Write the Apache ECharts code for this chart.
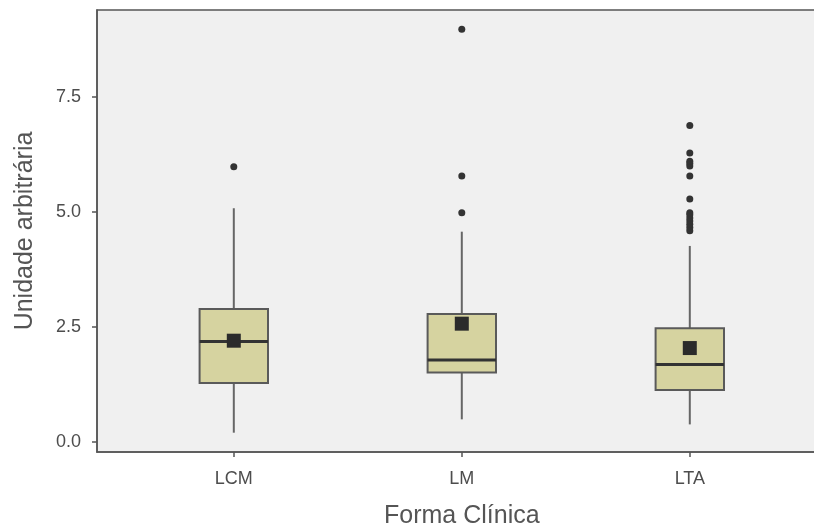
<!DOCTYPE html>
<html>
<head>
<meta charset="utf-8">
<script src="https://cdn.jsdelivr.net/npm/echarts@6/dist/echarts.min.js"></script>
<style>
html,body{margin:0;padding:0;background:#fff;}
#chart{width:814px;height:529px;}
</style>
</head>
<body>
<div id="chart"></div>
<script>
const categories = ['LCM', 'LM', 'LTA'];
const lowerWhisker = [0.20, 0.49, 0.38];
const q1 = [1.28, 1.51, 1.13];
const median = [2.18, 1.78, 1.68];
const q3 = [2.89, 2.78, 2.47];
const upperWhisker = [5.08, 4.57, 4.26];
const means = [2.20, 2.57, 2.04];
const outliersLCM = [5.98];
const outliersLM = [4.98, 5.78, 8.97];
const outliersLTA = [4.59, 4.66, 4.73, 4.80, 4.87, 4.94, 4.98, 5.28, 5.78, 6.00, 6.05, 6.10, 6.28, 6.88];
const yTicks = [0, 2.5, 5.0, 7.5];

const boxData = categories.map((c, i) => [i + 1, lowerWhisker[i], q1[i], median[i], q3[i], upperWhisker[i]]);
const outlierData = [];
[outliersLCM, outliersLM, outliersLTA].forEach((arr, i) => arr.forEach(v => outlierData.push([i + 1, v])));
const meanData = means.map((v, i) => [i + 1, v]);

const chart = echarts.init(document.getElementById('chart'));
const halfW = 0.15;
chart.setOption({
  animation: false,
  backgroundColor: '#ffffff',
  grid: {
    left: 97, top: 10, width: 729.6, height: 442,
    outerBoundsMode: 'none', containLabel: false,
    show: true, backgroundColor: '#f0f0f0', borderColor: '#555555', borderWidth: 1.5
  },
  xAxis: {
    type: 'value', min: 0.4, max: 3.6,
    name: 'Forma Clínica', nameLocation: 'middle', nameGap: 52,
    nameTextStyle: {fontSize: 25, color: '#555555', fontFamily: 'Liberation Sans'},
    splitLine: {show: false},
    axisLine: {show: true, onZero: false, lineStyle: {color: '#555555', width: 1.5}},
    axisTick: {show: true, length: 5, customValues: [1, 2, 3], lineStyle: {color: '#555555', width: 1.5}},
    axisLabel: {
      customValues: [1, 2, 3], margin: 18, fontSize: 18, color: '#4d4d4d', fontFamily: 'Liberation Sans',
      formatter: v => categories[Math.round(v) - 1] || ''
    }
  },
  yAxis: {
    type: 'value', min: -0.22, max: 9.39,
    name: 'Unidade arbitrária', nameLocation: 'middle', nameGap: 59,
    nameTextStyle: {fontSize: 25, color: '#555555', fontFamily: 'Liberation Sans'},
    splitLine: {show: false},
    axisLine: {show: true, onZero: false, lineStyle: {color: '#555555', width: 1.5}},
    axisTick: {show: true, length: 5, customValues: yTicks, lineStyle: {color: '#555555', width: 1.5}},
    axisLabel: {
      customValues: yTicks, margin: 16, fontSize: 18, color: '#4d4d4d', fontFamily: 'Liberation Sans',
      formatter: v => Number(v).toFixed(1)
    }
  },
  series: [
    {
      type: 'custom',
      data: boxData,
      encode: {x: 0, y: [1, 2, 3, 4, 5]},
      z: 2,
      renderItem: function (params, api) {
        const x = api.value(0);
        const lo = api.coord([x, api.value(1)]);
        const pq1 = api.coord([x, api.value(2)]);
        const pmed = api.coord([x, api.value(3)]);
        const pq3 = api.coord([x, api.value(4)]);
        const hi = api.coord([x, api.value(5)]);
        const left = api.coord([x - halfW, api.value(2)])[0];
        const right = api.coord([x + halfW, api.value(2)])[0];
        const lineStyle = {stroke: '#666666', lineWidth: 2};
        return {
          type: 'group',
          children: [
            {type: 'line', shape: {x1: hi[0], y1: hi[1], x2: pq3[0], y2: pq3[1]}, style: lineStyle},
            {type: 'line', shape: {x1: lo[0], y1: lo[1], x2: pq1[0], y2: pq1[1]}, style: lineStyle},
            {type: 'rect', shape: {x: left, y: pq3[1], width: right - left, height: pq1[1] - pq3[1]},
              style: {fill: '#d6d3a0', stroke: '#5a5a5a', lineWidth: 2}},
            {type: 'line', shape: {x1: left, y1: pmed[1], x2: right, y2: pmed[1]},
              style: {stroke: '#333333', lineWidth: 3}}
          ]
        };
      }
    },
    {
      type: 'scatter',
      data: outlierData,
      symbol: 'circle',
      symbolSize: 7,
      itemStyle: {color: '#333333', opacity: 1},
      z: 3
    },
    {
      type: 'scatter',
      data: meanData,
      symbol: 'rect',
      symbolSize: 14,
      itemStyle: {color: '#2b2b2b', opacity: 1},
      z: 4
    }
  ]
});
</script>
</body>
</html>
